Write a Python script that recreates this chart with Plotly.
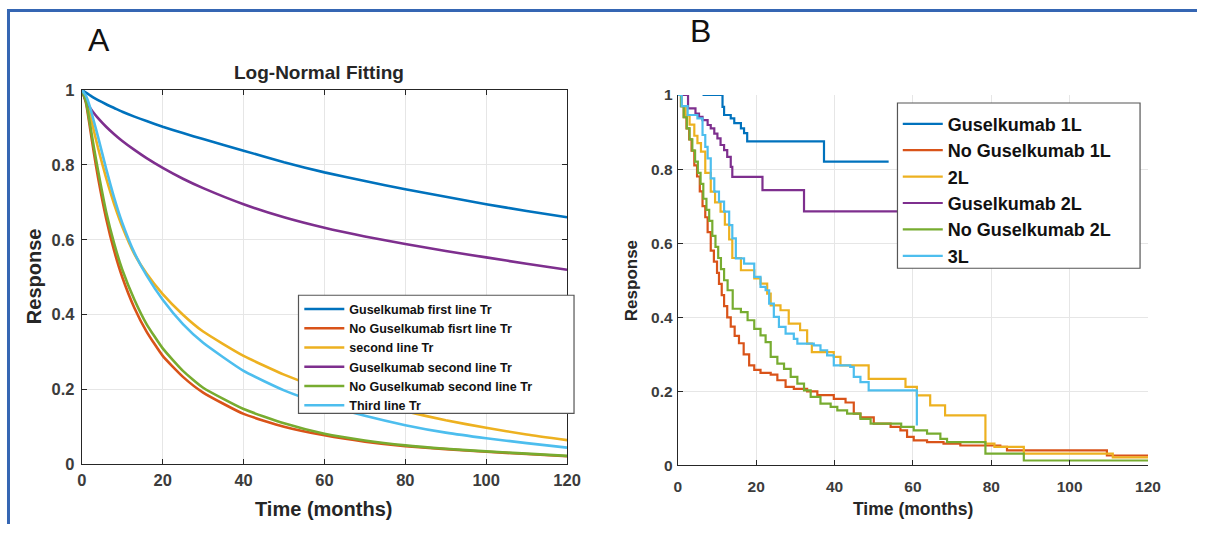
import plotly.graph_objects as go

W, H = 1211, 533

# ---- Panel A: log-normal fitted response curves (time in months) ----
fit_t = [0, 1, 2, 3, 4, 6, 8, 10, 13, 16, 20, 25, 30, 40, 50, 60, 70, 80, 90, 100, 110, 120]
fit_gus_1l = [1, 0.993, 0.986, 0.979, 0.973, 0.962, 0.952, 0.942, 0.929, 0.917, 0.902, 0.885, 0.869, 0.838, 0.807, 0.78, 0.757, 0.735, 0.715, 0.695, 0.677, 0.66]
fit_nogus_1l = [1, 0.966, 0.90, 0.83, 0.766, 0.657, 0.57, 0.50, 0.418, 0.355, 0.29, 0.234, 0.192, 0.135, 0.101, 0.078, 0.061, 0.049, 0.041, 0.034, 0.028, 0.022]
fit_2l = [1, 0.978, 0.935, 0.89, 0.845, 0.765, 0.695, 0.635, 0.562, 0.51, 0.455, 0.40, 0.355, 0.29, 0.24, 0.20, 0.17, 0.142, 0.118, 0.098, 0.08, 0.065]
fit_gus_2l = [1, 0.971, 0.953, 0.938, 0.925, 0.902, 0.882, 0.864, 0.84, 0.818, 0.792, 0.763, 0.738, 0.695, 0.66, 0.632, 0.609, 0.589, 0.57, 0.553, 0.536, 0.52]
fit_nogus_2l = [1, 0.97, 0.91, 0.845, 0.785, 0.675, 0.59, 0.52, 0.44, 0.375, 0.31, 0.25, 0.205, 0.148, 0.11, 0.082, 0.064, 0.051, 0.042, 0.035, 0.029, 0.023]
fit_3l = [1, 0.985, 0.955, 0.915, 0.875, 0.79, 0.712, 0.645, 0.565, 0.505, 0.44, 0.375, 0.325, 0.25, 0.198, 0.16, 0.13, 0.105, 0.085, 0.07, 0.057, 0.045]

fit_names = ["Guselkumab first line Tr", "No Guselkumab fisrt line Tr", "second line Tr",
             "Guselkumab second line Tr", "No Guselkumab second line Tr", "Third line Tr"]
fit_series = [fit_gus_1l, fit_nogus_1l, fit_2l, fit_gus_2l, fit_nogus_2l, fit_3l]

# ---- Panel B: Kaplan-Meier step curves ----
km_gus_1l_t = [6.3, 11.4, 11.8, 13.5, 14.4, 16.1, 16.9, 17.7, 37.3, 53.8]
km_gus_1l_s = [1, 0.968, 0.946, 0.937, 0.924, 0.91, 0.897, 0.875, 0.82, 0.82]

km_nogus_1l_t = [0, 0.8, 1.5, 2.2, 2.9, 3.5, 4.2, 4.9, 5.6, 6.3, 7.0, 7.6, 8.4, 9.2, 10.0, 10.5, 11.2, 11.8, 12.6,
                 13.5, 14.5, 15.6, 16.8, 18.2, 19.5, 21.1, 23.7, 25.4, 27.5, 29.6, 33.0, 35.6, 39.8, 42.8, 44.9,
                 46.6, 50.0, 54.3, 56.8, 58.5, 60.2, 63.6, 67.8, 72.1, 82.3, 84.0, 109.5, 120]
km_nogus_1l_s = [1, 0.97, 0.94, 0.91, 0.88, 0.85, 0.81, 0.78, 0.74, 0.70, 0.67, 0.63, 0.58, 0.55, 0.52, 0.49, 0.46,
                 0.43, 0.40, 0.375, 0.35, 0.33, 0.30, 0.27, 0.258, 0.25, 0.245, 0.23, 0.212, 0.207, 0.2, 0.19, 0.18,
                 0.17, 0.14, 0.13, 0.113, 0.104, 0.095, 0.077, 0.068, 0.063, 0.059, 0.054, 0.05, 0.041, 0.027, 0.027]

km_2l_t = [0, 1, 2, 3, 4.2, 5.0, 5.9, 7.0, 8.4, 9.5, 10.9, 12.0, 13.1, 13.9, 16.1, 19.5, 21.1, 22.8, 23.7, 26.2,
           28.3, 31.2, 33.0, 34.2, 39.8, 41.5, 48.7, 58.1, 61.0, 64.4, 68.2, 78.5, 80.8, 88.3, 111, 120]
km_2l_s = [1, 0.97, 0.945, 0.92, 0.89, 0.87, 0.847, 0.79, 0.739, 0.71, 0.685, 0.65, 0.61, 0.56, 0.527, 0.505,
           0.491, 0.464, 0.432, 0.419, 0.383, 0.365, 0.329, 0.306, 0.293, 0.27, 0.234, 0.212, 0.189, 0.162,
           0.135, 0.059, 0.05, 0.032, 0.022, 0.022]

km_gus_2l_t = [0, 2.6, 4.5, 5.4, 6.3, 7.6, 8.4, 9.3, 10.1, 10.9, 11.8, 12.6, 13.5, 13.9, 21.6, 32.2, 56]
km_gus_2l_s = [1, 0.964, 0.95, 0.941, 0.932, 0.919, 0.91, 0.896, 0.883, 0.865, 0.851, 0.833, 0.806, 0.779,
               0.743, 0.686, 0.686]

km_nogus_2l_t = [0, 0.8, 1.5, 2.3, 3.0, 3.7, 4.4, 5.1, 5.8, 6.5, 7.3, 8.0, 8.8, 9.6, 10.3, 11.0, 11.8, 12.7,
                 14.0, 16.1, 17.8, 19.5, 21.1, 22.4, 23.7, 25.4, 27.1, 28.8, 30.5, 32.2, 33.9, 36.4, 39.0,
                 40.7, 43.2, 46.6, 49.2, 57.0, 60.2, 63.6, 67.0, 68.7, 78.5, 88.3, 120]
km_nogus_2l_s = [1, 0.97, 0.94, 0.91, 0.88, 0.85, 0.82, 0.79, 0.76, 0.72, 0.69, 0.66, 0.62, 0.59, 0.56, 0.53,
                 0.5, 0.473, 0.423, 0.414, 0.392, 0.369, 0.351, 0.333, 0.293, 0.275, 0.261, 0.239, 0.221,
                 0.203, 0.185, 0.167, 0.158, 0.149, 0.14, 0.126, 0.113, 0.104, 0.095, 0.086, 0.072, 0.063,
                 0.032, 0.0135, 0.0135]

km_3l_t = [0, 1, 2.5, 5.0, 6.3, 7.0, 7.6, 8.4, 9.3, 10.5, 11.8, 13.1, 13.9, 14.8, 16.9, 19.5, 21.1, 22.4, 23.3,
           24.5, 25.8, 27.5, 29.6, 30.5, 34.7, 36.4, 38.1, 39.8, 44.0, 44.9, 46.6, 48.7, 61.0]
km_3l_s = [1, 0.97, 0.946, 0.937, 0.892, 0.86, 0.829, 0.775, 0.739, 0.712, 0.685, 0.649, 0.613, 0.559, 0.545,
           0.509, 0.482, 0.473, 0.437, 0.401, 0.374, 0.356, 0.342, 0.329, 0.324, 0.311, 0.297, 0.27, 0.266,
           0.239, 0.225, 0.203, 0.108]

km_names = ["Guselkumab 1L", "No Guselkumab 1L", "2L", "Guselkumab 2L", "No Guselkumab 2L", "3L"]
km_series = [(km_gus_1l_t, km_gus_1l_s), (km_nogus_1l_t, km_nogus_1l_s), (km_2l_t, km_2l_s),
             (km_gus_2l_t, km_gus_2l_s), (km_nogus_2l_t, km_nogus_2l_s), (km_3l_t, km_3l_s)]

colors = ["#0072BD", "#D95319", "#EDB120", "#7E2F8E", "#77AC30", "#4DBEEE"]

x_ticks = [0, 20, 40, 60, 80, 100, 120]
y_ticks = [0, 0.2, 0.4, 0.6, 0.8, 1]

FONT = "Liberation Sans"
AXIS_COLOR = "#262626"
TICK_TEXT = "#3c3c3c"
GRID_COLOR = "#e6e6e6"

# window-pixel positions -> paper fractions (the page shows the figure
# slightly inset and scaled inside the window)
SX, OX = 0.986, 3.0
SY, OY = 0.965, 9.1


def px_x(p):
    return (p - OX) / SX / W


def px_y(p):
    return 1 - (p - OY) / SY / H


fig = go.Figure()

for name, ys, c in zip(fit_names, fit_series, colors):
    fig.add_trace(go.Scatter(x=fit_t, y=ys, name=name, mode="lines",
                             line=dict(color=c, width=2.6, shape="spline", smoothing=0.5),
                             xaxis="x", yaxis="y", legend="legend"))

for name, (ts, ss), c in zip(km_names, km_series, colors):
    fig.add_trace(go.Scatter(x=ts, y=ss, name=name, mode="lines", line=dict(color=c, width=2.2, shape="hv"),
                             xaxis="x2", yaxis="y2", legend="legend2"))

axis_common = dict(showgrid=True, gridcolor=GRID_COLOR, gridwidth=1, zeroline=False, showline=True,
                   linecolor=AXIS_COLOR, linewidth=1.3, ticks="inside", tickcolor=AXIS_COLOR, ticklen=5)

fig.update_layout(
    width=W, height=H, margin=dict(l=0, r=0, t=0, b=0),
    paper_bgcolor="white", plot_bgcolor="white",
    font=dict(family=FONT, color=AXIS_COLOR),
    xaxis=dict(domain=[px_x(80), px_x(566)], range=[0, 120], tickvals=x_ticks, mirror="ticks",
               tickfont=dict(size=16.5, weight="bold", color=TICK_TEXT), ticklabelstandoff=1,
               anchor="y", **axis_common),
    yaxis=dict(domain=[px_y(464), px_y(90)], range=[0, 1], tickvals=y_ticks, mirror="ticks",
               tickfont=dict(size=16.5, weight="bold", color=TICK_TEXT), ticklabelstandoff=3,
               anchor="x", **axis_common),
    xaxis2=dict(domain=[px_x(677), px_x(1148)], range=[0, 120], tickvals=x_ticks,
                tickfont=dict(size=15.5, weight="bold", color=TICK_TEXT), ticklabelstandoff=7,
                anchor="y2", **axis_common),
    yaxis2=dict(domain=[px_y(465), px_y(95)], range=[0, 1], tickvals=y_ticks,
                tickfont=dict(size=15.5, weight="bold", color=TICK_TEXT), ticklabelstandoff=1,
                anchor="x2", **axis_common),
    legend=dict(x=(299 / W), y=1 - 295.3 / H, xanchor="left", yanchor="top", bgcolor="rgba(0,0,0,0)",
                borderwidth=0, font=dict(size=12.5, weight="bold", color="#111111"),
                tracegroupgap=0, itemwidth=40),
    legend2=dict(x=(907 / W), y=1 - 100 / H, xanchor="left", yanchor="top", bgcolor="rgba(0,0,0,0)",
                 borderwidth=0, font=dict(size=18, weight="bold", color="#111111"),
                 tracegroupgap=0, itemwidth=40),
    showlegend=True,
)

# legend frames (white boxes with grey border)
for x0, x1, y0, y1 in [(297, 573, 295, 413), (897, 1140, 103, 268)]:
    fig.add_shape(type="rect", xref="paper", yref="paper", layer="above",
                  x0=px_x(x0), x1=px_x(x1), y0=px_y(y1), y1=px_y(y0),
                  fillcolor="white", line=dict(color="#555555", width=1.2))

annotations = [
    dict(text="A", x=px_x(97), y=px_y(40), font=dict(size=32, color="#111111")),
    dict(text="B", x=px_x(700), y=px_y(31), font=dict(size=32, color="#111111")),
    dict(text="Log-Normal Fitting", x=px_x(318), y=px_y(73), font=dict(size=19, weight="bold", color=AXIS_COLOR)),
    dict(text="Time (months)", x=px_x(322), y=px_y(508), font=dict(size=20, weight="bold", color=AXIS_COLOR)),
    dict(text="Response", x=px_x(32), y=px_y(276), textangle=-90, font=dict(size=20, weight="bold", color=AXIS_COLOR)),
    dict(text="Time (months)", x=px_x(913), y=px_y(508), font=dict(size=17.5, weight="bold", color=AXIS_COLOR)),
    dict(text="Response", x=px_x(630), y=px_y(280), textangle=-90, font=dict(size=17, weight="bold", color=AXIS_COLOR)),
]
for a in annotations:
    a.update(xref="paper", yref="paper", showarrow=False, xanchor="center", yanchor="middle")
fig.update_layout(annotations=annotations)

# blue frame along the top and left edges
frame = "#3566b3"
fig.add_shape(type="line", xref="paper", yref="paper", x0=px_x(5), x1=1, y0=1 - 1.5 / H, y1=1 - 1.5 / H,
              line=dict(color=frame, width=3))
fig.add_shape(type="line", xref="paper", yref="paper", x0=px_x(6.5), x1=px_x(6.5), y0=0, y1=1,
              line=dict(color=frame, width=3))

fig.write_html("out.html")
